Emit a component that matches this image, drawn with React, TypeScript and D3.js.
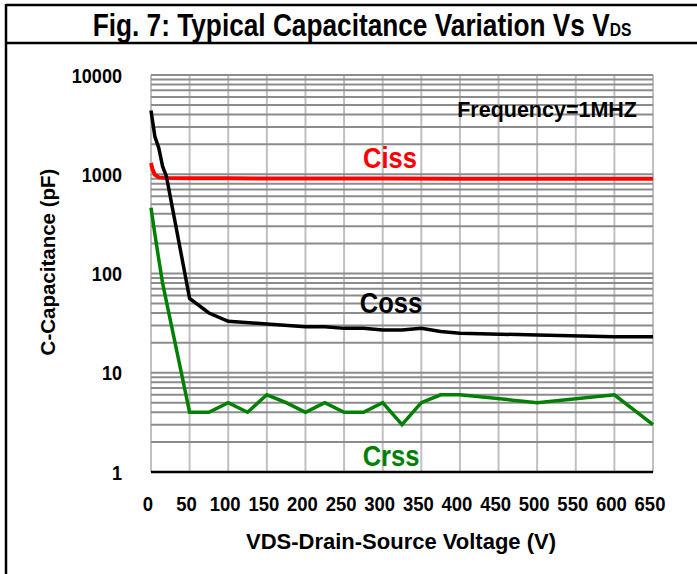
import * as d3 from 'd3';
import type { ReactNode } from 'react';

// Chart data
const voltageTicks = [0, 50, 100, 150, 200, 250, 300, 350, 400, 450, 500, 550, 600, 650];
const capTicks = [1, 10, 100, 1000, 10000];

const cissV = [0, 2, 5, 10, 20, 50, 100, 200, 300, 400, 500, 600, 650];
const cissC = [1300, 1120, 990, 930, 915, 910, 910, 905, 905, 900, 900, 900, 900];

const cossV = [0, 5, 10, 15, 20, 50, 75, 100, 150, 200, 225, 250, 275, 300, 325, 350, 375, 400, 500, 600, 650];
const cossC = [4400, 2400, 1850, 1200, 950, 56, 40, 33, 31, 29, 29, 28, 28, 27, 27, 28, 26, 25, 24, 23, 23];

const crssV = [0, 5, 10, 15, 20, 50, 75, 100, 125, 150, 175, 200, 225, 250, 275, 300, 325, 350, 375, 400, 500, 600, 650];
const crssC = [460, 250, 140, 80, 52, 4, 4, 5, 4, 6, 5, 4, 5, 4, 4, 5, 3, 5, 6, 6, 5, 6, 3];

const W = 697;
const H = 574;
const plot = { left: 151, right: 653, top: 75, bottom: 472 };
// no Arial Narrow offline: squeeze Liberation Sans (Arial metrics) horizontally where needed
const font = "'Liberation Sans', Arial, sans-serif";

function NText(props: {
    x: number;
    y: number;
    size: number;
    sx?: number;
    anchor?: string;
    fill?: string;
    rotate?: number;
    children: ReactNode;
}) {
    const rot = props.rotate ? ` rotate(${props.rotate})` : '';
    return (
        <text
            transform={`translate(${props.x},${props.y})${rot} scale(${props.sx ?? 1},1)`}
            textAnchor={props.anchor ?? 'start'}
            fontSize={props.size}
            fill={props.fill ?? '#000'}
        >
            {props.children}
        </text>
    );
}

export default function App() {
    const x = d3.scaleLinear().domain([0, 650]).range([plot.left, plot.right]);
    const y = d3.scaleLog().domain([1, 10000]).range([plot.bottom, plot.top]);

    // minor + major horizontal grid values (1..9 per decade)
    const hGrid: number[] = [];
    for (let e = 0; e < 4; e++) {
        for (let m = 1; m <= 9; m++) hGrid.push(m * Math.pow(10, e));
    }
    hGrid.push(10000);

    const line = d3
        .line<[number, number]>()
        .x((d) => x(d[0]))
        .y((d) => y(d[1]));

    const pairs = (vs: number[], cs: number[]) => vs.map((v, i) => [v, cs[i]] as [number, number]);

    return (
        <svg
            width={W}
            height={H}
            style={{ position: 'absolute', left: 0, top: 0, background: '#fff' }}
            fontFamily={font}
            fontWeight="bold"
        >
            {/* frame */}
            <line x1={6} x2={W} y1={5} y2={5} stroke="#000" strokeWidth={2.5} />
            <line x1={6} x2={W} y1={43} y2={43} stroke="#000" strokeWidth={2.5} />
            <line x1={6} x2={6} y1={4} y2={H} stroke="#000" strokeWidth={2.5} />

            <NText x={362} y={36} size={32} sx={0.82} anchor="middle">
                Fig. 7: Typical Capacitance Variation Vs V
                <tspan fontSize={19}>DS</tspan>
            </NText>

            {/* grid */}
            {voltageTicks.map((v) => (
                <line key={'v' + v} x1={x(v)} x2={x(v)} y1={plot.top} y2={plot.bottom} stroke="#c0c0c0" strokeWidth={2} />
            ))}
            {hGrid.map((c) => (
                <line key={'h' + c} x1={plot.left} x2={plot.right} y1={y(c)} y2={y(c)} stroke="#8c8c8c" strokeWidth={2} />
            ))}
            <line x1={plot.left} x2={plot.right} y1={plot.bottom} y2={plot.bottom} stroke="#000" strokeWidth={2.5} />

            {/* ticks */}
            {capTicks.map((c) => (
                <NText key={'yt' + c} x={122} y={y(c) + 7.5} size={21} sx={0.86} anchor="end">
                    {c}
                </NText>
            ))}
            {voltageTicks.map((v) => (
                <NText key={'xt' + v} x={x(v) - 3} y={511} size={21} sx={0.88} anchor="middle">
                    {v}
                </NText>
            ))}

            <NText x={401} y={549} size={22} anchor="middle">
                VDS-Drain-Source Voltage (V)
            </NText>
            <NText x={55} y={262} size={20.5} anchor="middle" rotate={-90}>
                C-Capacitance (pF)
            </NText>

            {/* series */}
            <path d={line(pairs(cissV, cissC)) ?? ''} fill="none" stroke="#ff0000" strokeWidth={4} />
            <path d={line(pairs(cossV, cossC)) ?? ''} fill="none" stroke="#000" strokeWidth={3.5} />
            <path d={line(pairs(crssV, crssC)) ?? ''} fill="none" stroke="#008000" strokeWidth={3.5} />

            {/* labels */}
            <NText x={637} y={117} size={21.5} anchor="end">
                Frequency=1MHZ
            </NText>
            <NText x={390} y={168} size={30} sx={0.85} anchor="middle" fill="#ff0000">
                Ciss
            </NText>
            <NText x={391} y={313} size={30} sx={0.85} anchor="middle">
                Coss
            </NText>
            <NText x={391} y={466} size={30} sx={0.85} anchor="middle" fill="#008000">
                Crss
            </NText>
        </svg>
    );
}
